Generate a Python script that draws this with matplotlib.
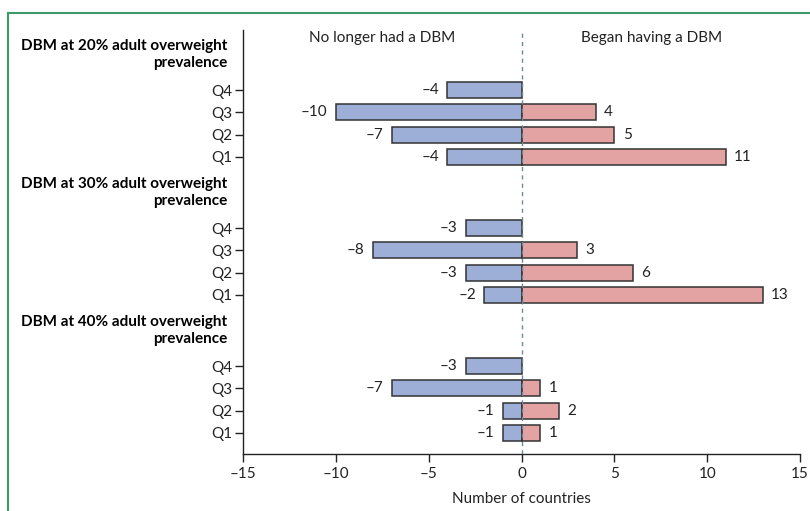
import numpy as np
import matplotlib
matplotlib.use('Agg')
import matplotlib.pyplot as plt
from matplotlib.lines import Line2D

plt.rcParams['font.family'] = ['Lato', 'DejaVu Sans']

# Data
groups = ['DBM at 20% adult overweight\nprevalence',
          'DBM at 30% adult overweight\nprevalence',
          'DBM at 40% adult overweight\nprevalence']
quartiles = ['Q4', 'Q3', 'Q2', 'Q1']
no_longer = [[-4, -10, -7, -4],
             [-3, -8, -3, -2],
             [-3, -7, -1, -1]]
began = [[None, 4, 5, 11],
         [None, 3, 6, 13],
         [None, 1, 2, 1]]

BLUE = '#9dafd7'
RED = '#e3a3a2'
EDGE = '#333333'

fig = plt.figure(figsize=(8.1, 5.11), dpi=100)
ax = fig.add_axes([0.3, 0.1115, 0.6877, 0.8297])

# vertical positions: groups stacked top to bottom, Q1 lowest in each group
group_base = [12.4, 6.2, 0.0]
ticks, ticklabels = [], []
for g in range(3):
    for i, q in enumerate(quartiles):
        y = group_base[g] + (3 - i)
        ticks.append(y)
        ticklabels.append(q)
        neg = no_longer[g][i]
        ax.barh(y, neg, height=0.72, color=BLUE, edgecolor=EDGE, linewidth=1.1, zorder=2)
        ax.text(neg - 0.45, y, f'\u2013{abs(neg)}', ha='right', va='center',
                fontsize=11, color='#222222')
        pos = began[g][i]
        if pos is not None:
            ax.barh(y, pos, height=0.72, color=RED, edgecolor=EDGE, linewidth=1.1, zorder=2)
            ax.text(pos + 0.45, y, str(pos), ha='left', va='center',
                    fontsize=11, color='#222222')
    ax.text(-15.85, group_base[g] + 4.6, groups[g], ha='right', va='center',
            fontsize=11, fontweight='bold', multialignment='right',
            linespacing=1.35, clip_on=False)

ax.axvline(0, color='#6f8a96', linestyle=(0, (3, 3)), linewidth=1.0, zorder=3)

ax.text(-7.5, 17.75, 'No longer had a DBM', ha='center', va='center', fontsize=11, color='#222222')
ax.text(7.0, 17.75, 'Began having a DBM', ha='center', va='center', fontsize=11, color='#222222')

ax.set_xlim(-15, 15)
ax.set_ylim(-0.95, 18.1)
ax.set_xticks([-15, -10, -5, 0, 5, 10, 15])
ax.set_xticklabels(['\u201315', '\u201310', '\u20135', '0', '5', '10', '15'])
ax.set_yticks(ticks)
ax.set_yticklabels(ticklabels)
ax.tick_params(axis='both', labelsize=11, colors='#222222', length=6, width=1.0)
ax.tick_params(axis='y', pad=2)
ax.set_xlabel('Number of countries', fontsize=11, color='#222222', labelpad=8)

for side in ['top', 'right']:
    ax.spines[side].set_visible(False)
for side in ['left', 'bottom']:
    ax.spines[side].set_color('#222222')
    ax.spines[side].set_linewidth(1.0)

# green frame along the top and left edge
fig.add_artist(Line2D([8 / 810, 1], [1 - 13 / 511, 1 - 13 / 511], color='#3a9a6a', linewidth=1.5))
fig.add_artist(Line2D([8 / 810, 8 / 810], [0, 1 - 13 / 511], color='#3a9a6a', linewidth=1.5))

fig.savefig('out.png', dpi=100)
